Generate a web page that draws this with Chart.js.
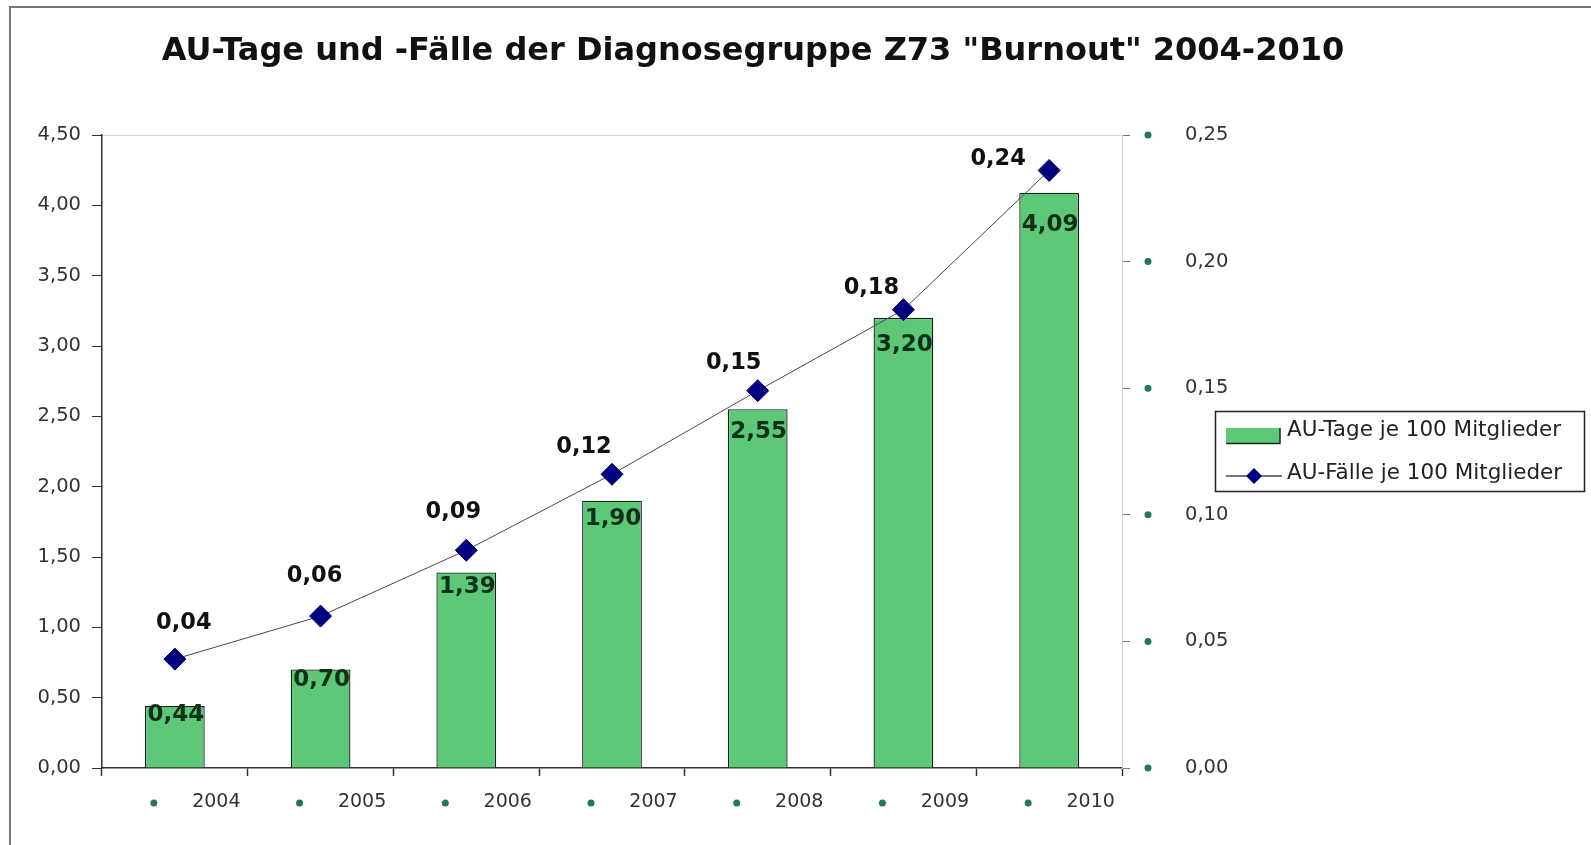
<!DOCTYPE html>
<html>
<head>
<meta charset="utf-8">
<script src="https://cdn.jsdelivr.net/npm/chart.js@4.4.0/dist/chart.umd.min.js"></script>
<style>
  html, body { margin: 0; padding: 0; background: #fff; overflow: hidden; }
  #wrap { position: relative; width: 1591px; height: 845px; }
  #burnoutChart { display: block; }
  #frame { position: absolute; left: 9px; top: 6px; width: 1700px; height: 900px; border: 2px solid #777; pointer-events: none; }
</style>
</head>
<body>
<div id="wrap">
  <canvas id="burnoutChart" width="1591" height="845"></canvas>
  <div id="frame"></div>
</div>
<script>
// Daten (AU = Arbeitsunfähigkeit, je 100 Mitglieder)
const years = ['2004', '2005', '2006', '2007', '2008', '2009', '2010'];
const auTage = [0.44, 0.70, 1.39, 1.90, 2.55, 3.20, 4.09];
const auFaelle = [0.043, 0.060, 0.086, 0.116, 0.149, 0.181, 0.236];

Chart.defaults.font.family = "'DejaVu Sans', sans-serif";
Chart.defaults.color = '#333';

const fmt = v => v.toFixed(2).replace('.', ',');

// Value labels on bars and line points
const lineLabelShift = [[9, -36], [-6, -40], [-13, -38], [-28, -27], [-24, -28], [-32, -22], [-51, -11]];
const valueLabels = {
    id: 'valueLabels',
    afterDatasetsDraw(chart) {
        const ctx = chart.ctx;
        ctx.save();
        ctx.textAlign = 'center';
        ctx.textBaseline = 'middle';
        ctx.font = "bold 23px 'DejaVu Sans'";
        chart.getDatasetMeta(0).data.forEach((bar, i) => {
            const v = auTage[i];
            ctx.fillStyle = '#10301a';
            ctx.fillText(fmt(v), bar.x + 1, bar.y + 6 + 6.5 * v);
        });
        ctx.font = "bold 22.5px 'DejaVu Sans'";
        chart.getDatasetMeta(1).data.forEach((pt, i) => {
            const s = lineLabelShift[i];
            ctx.fillStyle = '#111';
            ctx.fillText(fmt(auFaelle[i]), pt.x + s[0], pt.y + s[1]);
        });
        ctx.restore();
    }
};

// little green bullets in front of the tick labels
const axisDots = {
    id: 'axisDots',
    afterDraw(chart) {
        const { ctx, scales: { x, y1 }, chartArea } = chart;
        ctx.save();
        ctx.fillStyle = '#237a4d';
        const dot = (px, py) => { ctx.beginPath(); ctx.arc(px, py, 3.5, 0, Math.PI * 2); ctx.fill(); };
        x.ticks.forEach((t, i) => dot(x.getPixelForTick(i) - 21, chartArea.bottom + 35));
        y1.ticks.forEach((t, i) => dot(y1.left + 26, y1.getPixelForTick(i)));
        ctx.restore();
    }
};

// boxed legend right of the plot
const boxLegend = {
    id: 'boxLegend',
    afterDraw(chart) {
        const ctx = chart.ctx;
        const bars = chart.data.datasets[0];
        const line = chart.data.datasets[1];
        ctx.save();
        ctx.strokeStyle = '#222';
        ctx.lineWidth = 1.5;
        ctx.strokeRect(1215.5, 411.5, 369, 80);

        ctx.fillStyle = bars.backgroundColor;
        ctx.fillRect(1226, 428, 54, 15);
        ctx.strokeStyle = '#1c2c1c';
        ctx.beginPath();
        ctx.moveTo(1280, 428); ctx.lineTo(1280, 443.5); ctx.lineTo(1226, 443.5);
        ctx.stroke();

        ctx.strokeStyle = line.borderColor;
        ctx.lineWidth = 1.5;
        ctx.beginPath();
        ctx.moveTo(1226, 476); ctx.lineTo(1282, 476);
        ctx.stroke();
        ctx.fillStyle = line.pointBackgroundColor;
        ctx.beginPath();
        ctx.moveTo(1254, 468); ctx.lineTo(1262, 476); ctx.lineTo(1254, 484); ctx.lineTo(1246, 476);
        ctx.closePath();
        ctx.fill();

        ctx.fillStyle = '#222';
        ctx.font = "21.5px 'DejaVu Sans'";
        ctx.textBaseline = 'middle';
        ctx.fillText(bars.label, 1287, 430);
        ctx.fillText(line.label, 1287, 473);
        ctx.restore();
    }
};

new Chart(document.getElementById('burnoutChart'), {
    type: 'bar',
    data: {
        labels: years,
        datasets: [{
            type: 'bar',
            label: 'AU-Tage je 100 Mitglieder',
            data: auTage,
            backgroundColor: '#5cc878',
            borderColor: '#16241a',
            borderWidth: 1.3,
            barPercentage: 0.41,
            categoryPercentage: 1,
            yAxisID: 'y',
            order: 2
        }, {
            type: 'line',
            label: 'AU-Fälle je 100 Mitglieder',
            data: auFaelle,
            borderColor: '#45455f',
            borderWidth: 1,
            pointStyle: 'rectRot',
            pointRadius: 11,
            pointBackgroundColor: '#000080',
            pointBorderColor: '#00005a',
            pointBorderWidth: 1,
            yAxisID: 'y1',
            order: 1
        }]
    },
    options: {
        responsive: false,
        animation: false,
        layout: { padding: { left: 0, right: 85, top: 0, bottom: 0 } },
        plugins: {
            legend: { display: false },
            tooltip: { enabled: false },
            title: {
                display: true,
                text: 'AU-Tage und -Fälle der Diagnosegruppe Z73 "Burnout" 2004-2010',
                color: '#111',
                font: { size: 32, weight: 'bold' },
                padding: { top: 32, bottom: 64.6 }
            }
        },
        scales: {
            x: {
                offset: true,
                grid: { offset: true, drawOnChartArea: false, tickLength: 8, tickColor: '#333', tickWidth: 1.5 },
                border: { color: '#333', width: 1.5 },
                ticks: { labelOffset: 41.5, padding: 15, maxRotation: 0, autoSkip: false, font: { size: 19 } },
                afterFit(s) { s.height = 77; }
            },
            y: {
                position: 'left',
                min: 0,
                max: 4.5,
                ticks: { stepSize: 0.5, padding: 11, font: { size: 19.5 }, callback: v => fmt(v) },
                grid: {
                    color: c => (c.tick && c.tick.value === 4.5) ? '#d4d4d4' : 'rgba(0,0,0,0)',
                    tickColor: '#333',
                    tickLength: 10
                },
                border: { color: '#333', width: 1.5 },
                afterFit(s) { s.width = 102; }
            },
            y1: {
                position: 'right',
                min: 0,
                max: 0.25,
                ticks: { stepSize: 0.05, padding: 55, font: { size: 19.5 }, callback: v => fmt(v) },
                grid: { drawOnChartArea: false, tickLength: 8, tickColor: '#777' },
                border: { color: '#d4d4d4', width: 1 },
                afterFit(s) { s.width = 384; }
            }
        }
    },
    plugins: [valueLabels, axisDots, boxLegend]
});
</script>
</body>
</html>
